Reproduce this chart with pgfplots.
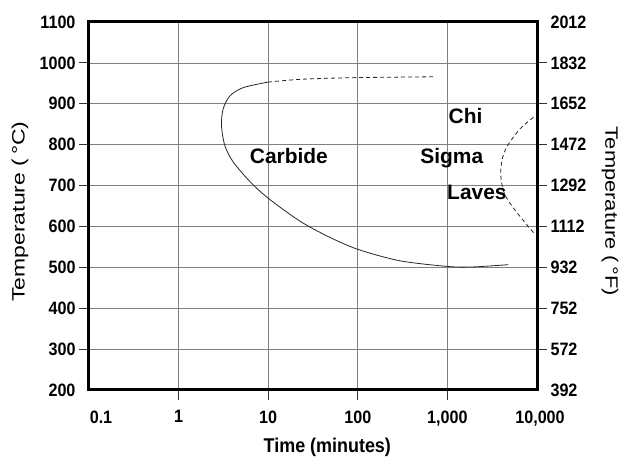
\documentclass[border=0pt]{standalone}
\usepackage{fontspec}
\setmainfont{Liberation Sans}
\newfontfamily\condfont[FakeStretch=0.9]{Liberation Sans}
\usepackage{graphicx}
\usepackage{pgfplots}
\pgfplotsset{compat=1.18}
\pgfplotsset{
  common/.style={
    width=448bp, height=368bp, scale only axis,
    tick align=outside,
    tick label style={font=\condfont\bfseries\fontsize{18}{18}\selectfont},
    /pgf/number format/assume math mode=true,
    /pgf/number format/1000 sep={},
  },
}
\begin{document}
\begin{tikzpicture}
\begin{axis}[
  common,
  name=main,
  xmode=log, log basis x=10,
  xmin=0.1, xmax=10000, ymin=200, ymax=1100,
  xtick={1,10,100,1000},
  xticklabels={1,10,100,{1,000}},
  ytick={300,400,...,1000},
  ytick pos=left, xtick pos=bottom,
  major tick length=10bp,
  minor tick length=0pt,
  major tick style={draw=black!80, line width=1bp},
  grid=major,
  major grid style={black!50, line width=0.7bp},
  axis line style={line width=3bp},
  xticklabel style={yshift=-7bp},
  xlabel={Time (minutes)},
  every axis x label/.style={at={(axis description cs:0.532,0)}, anchor=base, yshift=-63bp,
    font=\condfont\bfseries\fontsize{20}{20}\selectfont},
  ylabel={\scalebox{1.28}[1]{Temperature (\,°C)}},
  every axis y label/.style={at={(axis description cs:-0.154,0.485)}, rotate=90, anchor=center,
    font=\fontsize{18}{20}\selectfont},
]
% Carbide C-curve (solid)
\addplot[black!85, line width=0.8bp, smooth] coordinates {
 (10,953) (5.26,939.5) (3.73,919) (3.14,887) (3.01,847) (3.28,798) (4.06,758)
 (6.24,710) (10,669) (22.6,613) (47,575) (100,544) (296,516) (1025,502) (1950,501) (4790,506.5)
};
% Carbide upper dashed
\addplot[black!85, line width=0.8bp, smooth, dash pattern=on 4bp off 3bp] coordinates {
 (10,953) (22.6,959.7) (81.7,963.7) (728,966)
};
% Chi / Sigma / Laves dashed curve
\addplot[black!85, line width=0.8bp, smooth, dash pattern=on 4bp off 3bp] coordinates {
 (9140,867) (6490,839) (4700,798) (4150,770) (3950,740) (4000,710) (4400,677)
 (5460,645) (7380,609) (9140,585)
};
\node[anchor=base, font=\bfseries\fontsize{21}{21}\selectfont] at (axis cs:17,754) {Carbide};
\node[anchor=base, font=\bfseries\fontsize{21}{21}\selectfont] at (axis cs:1596,851) {Chi};
\node[anchor=base, font=\bfseries\fontsize{21}{21}\selectfont] at (axis cs:1119,754) {Sigma};
\node[anchor=base, font=\bfseries\fontsize{21}{21}\selectfont] at (axis cs:2133,665) {Laves};
\end{axis}
% corner labels without tick marks
\begin{axis}[
  common,
  xmode=log, log basis x=10,
  xmin=0.1, xmax=10000, ymin=200, ymax=1100,
  axis line style={draw=none},
  xtick={0.1,10000},
  xticklabels={{\kern24bp 0.1},{\kern6bp 10,000}},
  ytick={200,1100},
  ytick pos=left, xtick pos=bottom,
  major tick length=0pt, minor tick length=0pt,
  major tick style={draw=none},
  xticklabel style={yshift=-17bp},
  yticklabel style={xshift=-10bp},
]
\addplot[draw=none] coordinates {(1,500)};
\end{axis}
% right axis in degrees F
\begin{axis}[
  common,
  xmin=0, xmax=1, ymin=392, ymax=2012,
  axis x line=none, axis y line*=right,
  axis line style={line width=3bp, -},
  ytick={572,752,...,1832},
  major tick length=10bp,
  major tick style={draw=black!80, line width=1bp},
  ylabel={\scalebox{1.22}[1]{Temperature (\,°F)}},
  every axis y label/.style={at={(axis description cs:1.163,0.485)}, rotate=-90, anchor=center,
    font=\fontsize{18}{20}\selectfont},
]
\addplot[draw=none] coordinates {(0,392) (1,2012)};
\end{axis}
% right corner labels
\begin{axis}[
  common,
  xmin=0, xmax=1, ymin=392, ymax=2012,
  axis x line=none, axis y line*=right,
  axis line style={draw=none},
  ytick={392,2012},
  major tick length=0pt,
  major tick style={draw=none},
  yticklabel style={xshift=10bp},
]
\addplot[draw=none] coordinates {(0,392) (1,2012)};
\end{axis}
\pgfresetboundingbox
\path ([shift={(-89bp,-70bp)}]main.south west) rectangle ([shift={(83bp,22bp)}]main.north east);
\end{tikzpicture}
\end{document}
